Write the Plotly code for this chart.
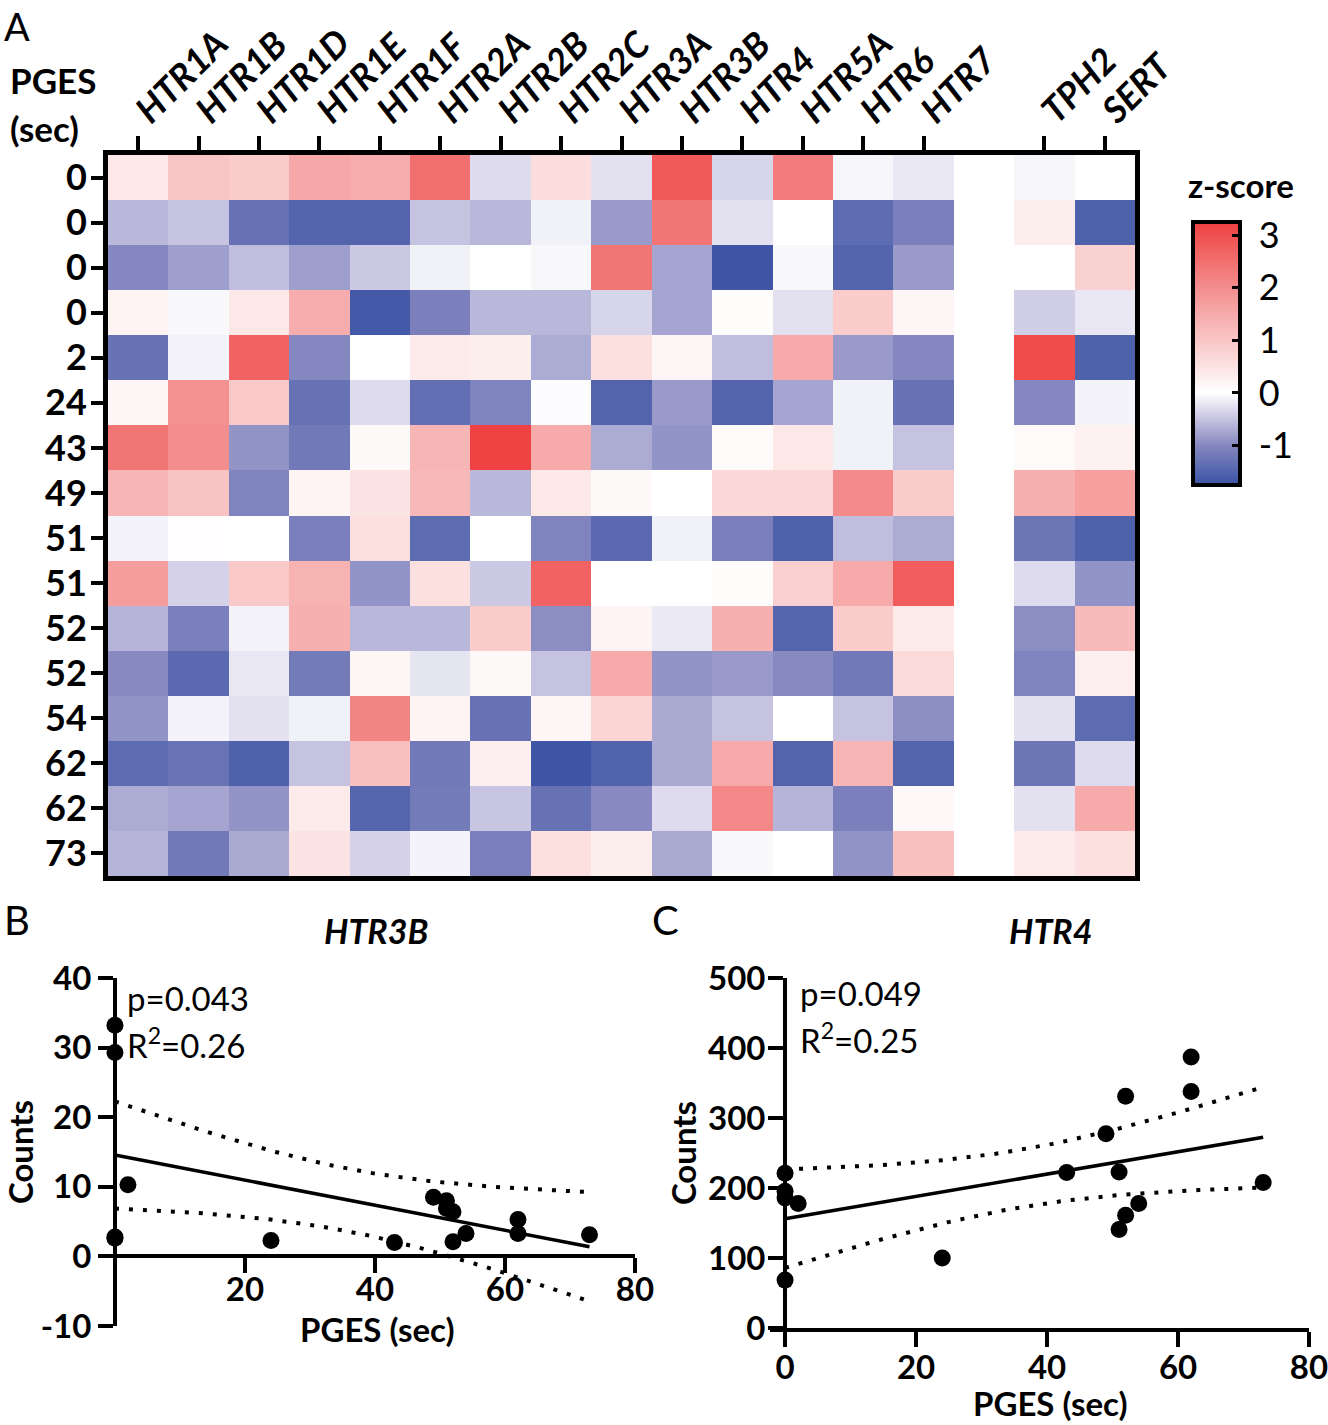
import numpy as np
import plotly.graph_objects as go

# heatmap rows (PGES, sec) and gene columns
pges_rows = ["0", "0", "0", "0", "2", "24", "43", "49", "51", "51", "52", "52", "54", "62", "62", "73"]
genes = ["HTR1A", "HTR1B", "HTR1D", "HTR1E", "HTR1F", "HTR2A", "HTR2B", "HTR2C",
         "HTR3A", "HTR3B", "HTR4", "HTR5A", "HTR6", "HTR7", "", "TPH2", "SERT"]

# z-scores per gene (one value per row above)
htr1a = [0.4, -0.6, -1.0, 0.2, -1.3, 0.15, 2.4, 1.3, -0.1, 1.75, -0.62, -0.98, -0.9, -1.4, -0.7, -0.62]
htr1b = [1.0, -0.5, -0.8, -0.05, -0.1, 1.95, 2.0, 1.05, 0.04, -0.38, -1.1, -1.42, -0.1, -1.28, -0.75, -1.2]
htr1d = [0.9, -1.3, -0.55, 0.4, 2.7, 0.95, -0.9, -1.05, 0.0, 0.95, -0.1, -0.2, -0.25, -1.55, -0.9, -0.72]
htr1e = [1.55, -1.5, -0.8, 1.45, -1.0, -1.3, -1.2, 0.2, -1.1, 1.35, 1.4, -1.18, -0.12, -0.5, 0.35, 0.5]
htr1f = [1.45, -1.5, -0.45, -1.65, 0.02, -0.3, 0.1, 0.5, 0.55, -0.9, -0.6, 0.18, 2.15, 1.1, -1.48, -0.38]
htr2a = [2.5, -0.5, -0.12, -1.1, 0.35, -1.35, 1.3, 1.25, -1.4, 0.55, -0.6, -0.22, 0.2, -1.2, -1.18, -0.1]
htr2b = [-0.3, -0.6, 0.0, -0.6, 0.3, -1.05, 3.2, -0.6, 0.0, -0.45, 0.9, 0.1, -1.3, 0.28, -0.48, -1.1]
htr2c = [0.6, -0.12, -0.06, -0.6, -0.7, -0.03, 1.5, 0.4, -1.05, 2.7, -0.95, -0.5, 0.15, -1.7, -1.3, 0.55]
htr3a = [-0.25, -0.85, 2.4, -0.35, 0.55, -1.5, -0.7, 0.1, -1.42, 0.0, 0.2, 1.5, 0.75, -1.52, -0.98, 0.3]
htr3b = [2.85, 2.4, -0.75, -0.75, 0.15, -0.85, -0.9, 0.0, -0.12, 0.0, -0.18, -0.9, -0.72, -0.72, -0.3, -0.72]
htr4 = [-0.35, -0.25, -1.7, 0.05, -0.55, -1.5, 0.08, 0.7, -1.1, 0.06, 1.4, -0.85, -0.5, 1.5, 2.1, -0.05]
htr5a = [2.3, 0.0, -0.06, -0.25, 1.5, -0.75, 0.4, 0.7, -1.55, 0.85, -1.48, -0.98, 0.0, -1.5, -0.62, 0.0]
htr6 = [-0.08, -1.4, -1.5, 0.9, -0.85, -0.12, -0.12, 2.05, -0.55, 1.5, 0.9, -1.2, -0.5, 1.3, -1.1, -0.9]
htr7 = [-0.2, -1.1, -0.85, 0.15, -1.0, -1.3, -0.5, 0.9, -0.7, 2.8, 0.35, 0.65, -0.95, -1.5, 0.12, 1.1]
gap = [None] * 16
tph2 = [-0.08, 0.3, 0.0, -0.4, 3.05, -1.0, 0.08, 1.4, -1.25, -0.3, -0.95, -1.05, -0.25, -1.25, -0.25, 0.35]
sert = [0.0, -1.55, 0.8, -0.2, -1.55, -0.1, 0.25, 1.7, -1.55, -0.9, 1.2, 0.28, -1.4, -0.3, 1.5, 0.55]

# scatter data: PGES vs counts
pges = [0, 0, 0, 0, 2, 24, 43, 49, 51, 51, 52, 52, 54, 62, 62, 73]
htr3b_counts = [33.2, 29.3, 2.8, 2.6, 10.3, 2.3, 2.0, 8.5, 8.0, 6.9, 6.4, 2.1, 3.3, 5.3, 3.3, 3.1]
htr4_counts = [185.7, 195.5, 68.4, 221, 178, 100, 222, 277.6, 140.8, 223, 331, 161, 178, 387, 338, 207.7]

W, H = 1328, 1425
FONT = "Lato"

def px_x(p):
    return p / W

def px_y(p):
    return 1 - p / H

def frac_at(value, dom, rng):
    # paper fraction where `value` sits on an axis with this domain and range
    return dom[0] + (value - rng[0]) / (rng[1] - rng[0]) * (dom[1] - dom[0])

cols = [htr1a, htr1b, htr1d, htr1e, htr1f, htr2a, htr2b, htr2c, htr3a, htr3b,
        htr4, htr5a, htr6, htr7, gap, tph2, sert]
z = [list(r) for r in zip(*cols)]

zmin, zmax = -1.75, 3.25
def pos(v):
    return (v - zmin) / (zmax - zmin)

colorscale = [
    [pos(-1.75), "#3A53A4"],
    [pos(-1.0), "#8587C0"],
    [pos(-0.5), "#C6C3E1"],
    [pos(0.0), "#FFFFFF"],
    [pos(1.0), "#F9C6C6"],
    [pos(2.0), "#F48E8E"],
    [pos(3.25), "#EF4040"],
]

fig = go.Figure()

fig.add_trace(go.Heatmap(
    z=z, x=list(range(len(genes))), y=list(range(len(pges_rows))),
    zmin=zmin, zmax=zmax, colorscale=colorscale,
    xaxis="x", yaxis="y",
    colorbar=dict(
        thickness=47, thicknessmode="pixels",
        len=263 / H, lenmode="fraction",
        x=px_x(1193), xanchor="left", y=px_y(353.5), yanchor="middle",
        outlinewidth=4, outlinecolor="black",
        tickvals=[-1, 0, 1, 2, 3],
        ticktext=["\u2005-1", "\u20050", "\u20051", "\u20052", "\u20053"],
        ticks="inside", ticklen=10, tickwidth=3,
        tickcolor="black", tickfont=dict(family=FONT, size=36, color="black"),
        xpad=0, ypad=0,
    ),
))


def reg_traces(x, y, xa, ya):
    x = np.asarray(x, float)
    y = np.asarray(y, float)
    n = len(x)
    slope, icpt = np.polyfit(x, y, 1)
    resid = y - (icpt + slope * x)
    s = np.sqrt(np.sum(resid ** 2) / (n - 2))
    sxx = np.sum((x - x.mean()) ** 2)
    t = 2.1448  # t(0.975, 14)
    xs = np.linspace(x.min(), x.max(), 60)
    fit = icpt + slope * xs
    half = t * s * np.sqrt(1 / n + (xs - x.mean()) ** 2 / sxx)
    out = [go.Scatter(x=xs, y=fit, mode="lines", line=dict(color="black", width=3.5),
                      xaxis=xa, yaxis=ya, showlegend=False)]
    for band in (fit + half, fit - half):
        out.append(go.Scatter(x=xs, y=band, mode="lines",
                              line=dict(color="black", width=4, dash="4px,10px"),
                              xaxis=xa, yaxis=ya, showlegend=False))
    out.append(go.Scatter(x=x, y=y, mode="markers", cliponaxis=False,
                          marker=dict(color="black", size=17),
                          xaxis=xa, yaxis=ya, showlegend=False))
    return out


for tr in reg_traces(pges, htr3b_counts, "x2", "y2"):
    fig.add_trace(tr)
for tr in reg_traces(pges, htr4_counts, "x3", "y3"):
    fig.add_trace(tr)

bold = dict(family=FONT, size=33, color="black", weight="bold")
axis_common = dict(showline=True, linecolor="black", showgrid=False, zeroline=False,
                   ticks="outside", tickcolor="black")

# panel B: x axis sits at y=0, y axis at x=0 (x line runs a little past it)
b_xdom, b_xrange = [px_x(100), px_x(635)], [-2.3, 80]
b_ydom, b_yrange = [px_y(1326), px_y(978)], [-10, 40]
# panel C
c_xdom, c_xrange = [px_x(770), px_x(1309)], [-2.3, 80]
c_ydom, c_yrange = [px_y(1328), px_y(978)], [0, 500]

fig.update_layout(
    width=W, height=H, margin=dict(l=0, r=0, t=0, b=0, autoexpand=False),
    paper_bgcolor="white", plot_bgcolor="white", showlegend=False,
    font=dict(family=FONT, color="black"),
    xaxis=dict(**axis_common, domain=[px_x(108), px_x(1135)], anchor="y", side="top",
               range=[-0.5, len(genes) - 0.5],
               tickvals=[i for i, g in enumerate(genes) if g],
               ticktext=[g for g in genes if g], tickangle=-45,
               tickfont=dict(family=FONT, size=36, color="black", weight="bold", style="italic"),
               linewidth=5, mirror=True, ticklen=14, tickwidth=4, ticklabelstandoff=-9),
    yaxis=dict(**axis_common, domain=[px_y(876), px_y(155)], anchor="x",
               range=[len(pges_rows) - 0.5, -0.5],
               tickvals=list(range(len(pges_rows))), ticktext=pges_rows,
               tickfont=dict(family=FONT, size=36, color="black", weight="bold"),
               linewidth=5, mirror=True, ticklen=12, tickwidth=4, ticklabelstandoff=-3),
    xaxis2=dict(**axis_common, domain=b_xdom, anchor="free",
                position=frac_at(0, b_ydom, b_yrange),
                range=b_xrange, tickvals=[20, 40, 60, 80], tickfont=bold,
                linewidth=4, ticklen=15, tickwidth=4, ticklabelstandoff=-12),
    yaxis2=dict(**axis_common, domain=b_ydom, anchor="free",
                position=frac_at(0, b_xdom, b_xrange), range=b_yrange,
                tickvals=[-10, 0, 10, 20, 30, 40],
                ticktext=["-10", "0", "10", "20", "30", "40"], tickfont=bold,
                linewidth=4, ticklen=15, tickwidth=4,
                title=dict(text="Counts", font=bold, standoff=0)),
    xaxis3=dict(**axis_common, domain=c_xdom, anchor="y3",
                range=c_xrange, tickvals=[0, 20, 40, 60, 80], tickfont=bold,
                linewidth=4, ticklen=15, tickwidth=4, ticklabelstandoff=-8,
                ticklabeloverflow="allow"),
    yaxis3=dict(**axis_common, domain=c_ydom, anchor="free",
                position=frac_at(0, c_xdom, c_xrange), range=c_yrange,
                tickvals=[0, 100, 200, 300, 400, 500], tickfont=bold,
                linewidth=4, ticklen=15, tickwidth=4, ticklabelstandoff=-4,
                title=dict(text="Counts", font=bold, standoff=0)),
)

def note(text, x, y, size=32, xanchor="left", yanchor="middle", **kw):
    fig.add_annotation(text=text, x=px_x(x), y=px_y(y), xref="paper", yref="paper",
                       showarrow=False, xanchor=xanchor, yanchor=yanchor,
                       font=dict(family=FONT, size=size, color="black", **kw))

note("A", 2, 1, size=38, yanchor="top")
note("B", 2, 920, size=40)
note("C", 650, 920, size=40)
note("<b>PGES</b>", 8, 80, size=35)
note("<b>(sec)</b>", 8, 128, size=35)
note("<b>z-score</b>", 1241, 185, size=33, xanchor="center")
note("<b><i>HTR3B</i></b>", 376, 930, size=34, xanchor="center")
note("<b><i>HTR4</i></b>", 1050, 930, size=34, xanchor="center")
note("<b>PGES (sec)</b>", 377, 1329, size=33, xanchor="center")
note("<b>PGES (sec)</b>", 1050, 1403, size=33, xanchor="center")
note("p=0.043", 125, 998, size=33)
note("R<sup>2</sup>=0.26", 125, 1043, size=33)
note("p=0.049", 798, 993, size=33)
note("R<sup>2</sup>=0.25", 798, 1038, size=33)

# the page body has a default margin; drop it so the figure fills the window
fig.write_html("out.html", config={"displayModeBar": False},
               post_script="document.body.style.margin='0';")
